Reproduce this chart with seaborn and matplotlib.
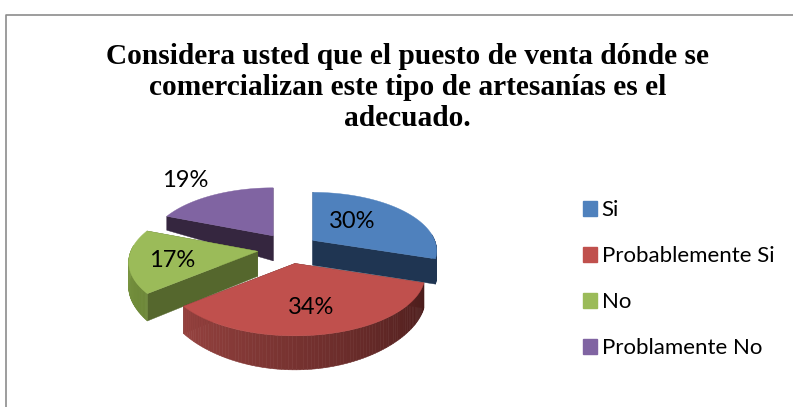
import numpy as np
import matplotlib
matplotlib.use("Agg")
import matplotlib.pyplot as plt
import seaborn as sns
from matplotlib.patches import Polygon, Patch
from matplotlib.colors import to_rgb

categories = ["Si", "Probablemente Si", "No", "Problamente No"]
values = [30, 34, 17, 19]
top_colors = ["#4f81bd", "#c0504d", "#9bbb59", "#8064a2"]
cut_colors = ["#1f3552", "#4f1f1d", "#55672d", "#35263f"]
rim_light = ["#1f3552", "#96423f", "#84a04a", "#63497f"]
rim_dark = ["#1f3552", "#4a1c1b", "#6b8636", "#35263f"]
label_r = [0.44, 0.66, 0.68, 1.5]
label_shift = [(-2, -6), (-1, 2), (-2, 2), (-4, 1)]
slice_scale = [1.0, 1.05, 1.04, 1.0]
slice_nudge = [(0, 0), (2, 0), (2, 0), (4, -1)]
title = ("Considera usted que el puesto de venta dónde se\n"
         "comercializan este tipo de artesanías es el\nadecuado.")

sns.set_theme(style="white")
plt.rcParams["font.family"] = ["Lato", "DejaVu Sans"]
fig, ax = plt.subplots(figsize=(7.93, 4.07), dpi=100)
ax.set_position([0, 0, 1, 1])
ax.set_xlim(0, 793)
ax.set_ylim(407, 0)
ax.axis("off")

A, B, K = 122.0, 56.6, 0.179
CX, CY, EXPL = 287.0, 249.0, 0.26


def project(theta, r=1.0):
    X, Y = r * np.sin(theta), -r * np.cos(theta)
    w = 1 / (1 - K * Y)
    return A * X * w, B * Y * w


def depth(theta):
    Y = -np.cos(theta)
    return 25 + 9 * Y ** 3 if Y > 0 else max(0.0, 25 + 30 * Y)


edges = np.radians(np.concatenate([[0], np.cumsum(values)]) / sum(values) * 360)
centers = []
for i in range(4):
    mid = (edges[i] + edges[i + 1]) / 2
    centers.append((CX + A * EXPL * np.sin(mid) + slice_nudge[i][0],
                    CY - B * EXPL * np.cos(mid) + slice_nudge[i][1]))


def draw_slice(i, z):
    t0, t1 = edges[i], edges[i + 1]
    cx, cy = centers[i]
    s = slice_scale[i]
    ts = np.linspace(t0, t1, 90)
    for t in (t0, t1):
        px, py = project(t)
        d = depth(t)
        ax.add_patch(Polygon([(cx, cy), (cx + s * px, cy + s * py), (cx + s * px, cy + s * py + d), (cx, cy + 25)],
                             closed=True, fc=cut_colors[i], ec=cut_colors[i], lw=0.3, zorder=z))
    c0, c1 = np.array(to_rgb(rim_light[i])), np.array(to_rgb(rim_dark[i]))
    lo, hi = ts.min(), ts.max()
    for a, b in zip(ts[:-1], ts[1:]):
        if -np.cos((a + b) / 2) < -0.1:
            continue
        f = 1 - ((a + b) / 2 - lo) / (hi - lo)
        col = c0 + (c1 - c0) * f
        ax1, ay1 = project(a)
        bx1, by1 = project(b)
        ax.add_patch(Polygon([(cx + s * ax1, cy + s * ay1), (cx + s * bx1, cy + s * by1),
                              (cx + s * bx1, cy + s * by1 + depth(b)), (cx + s * ax1, cy + s * ay1 + depth(a))],
                             closed=True, fc=col, ec=col, lw=0.4, zorder=z))
    px, py = project(ts)
    pts = [(cx, cy)] + list(zip(cx + s * px, cy + s * py))
    ax.add_patch(Polygon(pts, closed=True, fc=top_colors[i], ec=top_colors[i], lw=0.3, zorder=z + 0.5))


for z, i in enumerate([3, 0, 2, 1]):
    draw_slice(i, z + 1)

for i in range(4):
    mid = (edges[i] + edges[i + 1]) / 2
    dx, dy = project(mid, label_r[i])
    ax.text(centers[i][0] + dx + label_shift[i][0], centers[i][1] + dy + 1 + label_shift[i][1],
            f"{values[i]}%", ha="center", va="center", fontsize=17, color="black", zorder=10)

fig.text(0.514, 0.785, title, ha="center", va="center", family="Liberation Serif",
         fontweight="bold", fontsize=21.2, color="black", linespacing=1.2)

handles = [Patch(fc=c, ec=c) for c in top_colors]
ax.legend(handles, categories, loc="center left", bbox_to_anchor=(0.735, 0.314), frameon=False,
          fontsize=16, labelspacing=1.17, handlelength=0.63, handleheight=0.63,
          handletextpad=0.22, borderpad=0, labelcolor="black", borderaxespad=0)

frame = "#8c8c8c"
ax.plot([6, 6, 793], [407, 14.5, 14.5], color=frame, lw=1.2, clip_on=False, zorder=0)

fig.savefig("out.png", dpi=100)
